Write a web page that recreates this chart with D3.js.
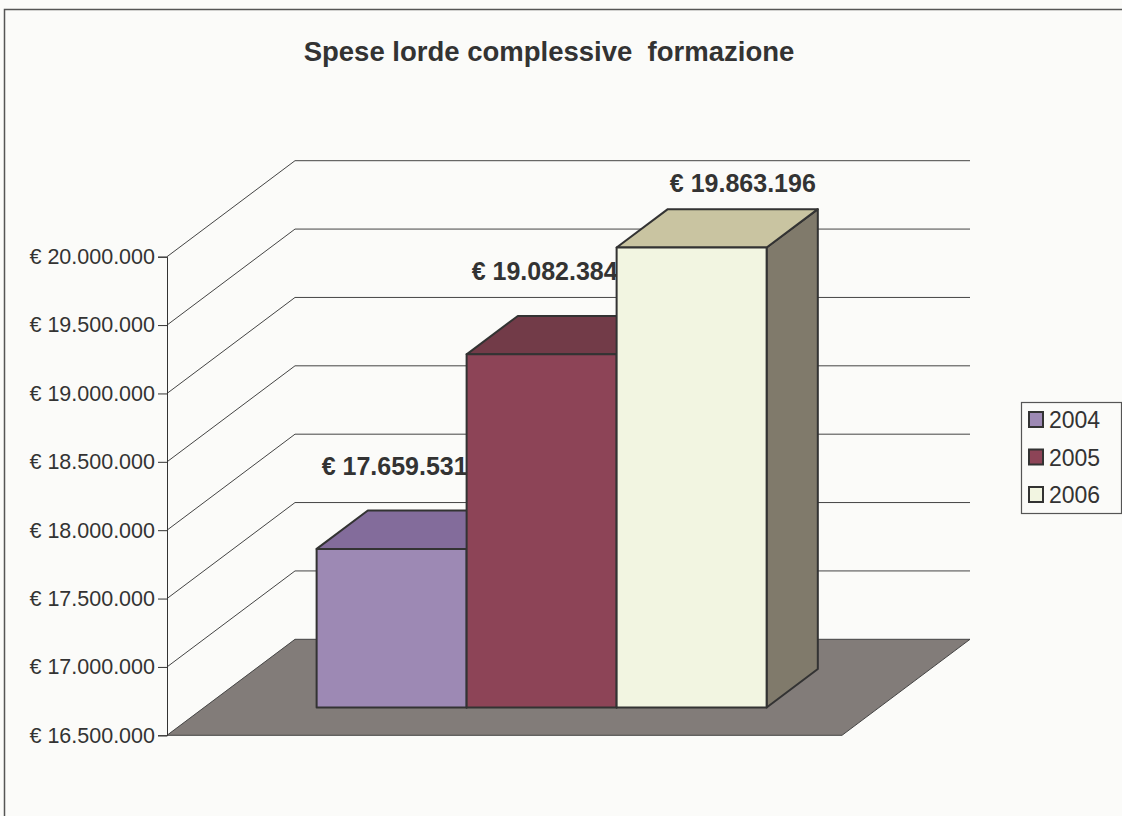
<!DOCTYPE html>
<html>
<head>
<meta charset="utf-8">
<script src="https://cdn.jsdelivr.net/npm/d3@7"></script>
<style>
  body { margin: 0; background: #fbfbf9; }
  svg { display: block; font-family: "Liberation Sans", Arial, sans-serif; }
</style>
</head>
<body>
<div id="chart"></div>
<script>
// data
const years = ["2004", "2005", "2006"];
const values = [17659531, 19082384, 19863196];
const yTicks = [16500000, 17000000, 17500000, 18000000, 18500000, 19000000, 19500000, 20000000];
const frontColors = ["#9d89b4", "#8d4457", "#f2f5e1"];
const topColors = ["#836c9b", "#723b48", "#c9c4a1"];
const sideColors = ["#6a5680", "#5e2f3b", "#807a6b"];

document.addEventListener('DOMContentLoaded', function () {
    drawChart();
});

function drawChart() {
    const width = 1122, height = 816;
    // front plane of the plot and depth of the 3d box
    const left = 167, right = 842, depthX = 128, depthY = 96;
    // where the bars sit in depth (0 = front wall, 1 = back wall)
    const barFront = 0.29, barBack = 0.69;

    const svg = d3.select("#chart")
        .append("svg")
        .attr("width", width)
        .attr("height", height);

    // outer border of the chart area
    svg.append("rect")
        .attr("x", 4.5).attr("y", 9.5)
        .attr("width", width).attr("height", height)
        .attr("fill", "#fbfbf9")
        .attr("stroke", "#555")
        .attr("stroke-width", 1.5);

    const y = d3.scaleLinear()
        .domain([16500000, 20000000])
        .range([735.3, 256.7]);

    // bars are clustered inside the single category
    const x = d3.scaleBand()
        .domain(years)
        .range([left + 112.5, right - 112.5]);

    // project a point (x on front plane, value, depth fraction)
    const proj = (px, v, f) => [px + f * depthX, y(v) - f * depthY];

    const eur = d3.formatLocale({ decimal: ",", thousands: ".", grouping: [3], currency: ["€ ", ""] })
        .format("$,.0f");

    // title
    svg.append("text")
        .attr("x", 549)
        .attr("y", 61)
        .attr("text-anchor", "middle")
        .style("font-size", "27.5px")
        .style("font-weight", "bold")
        .attr("fill", "#333")
        .attr("xml:space", "preserve")
        .text("Spese lorde complessive  formazione");

    const grid = svg.append("g");
    const base = yTicks[0];

    // floor
    grid.append("path")
        .attr("d", d3.line()([proj(left, base, 0), proj(left, base, 1), proj(right, base, 1), proj(right, base, 0)]) + "Z")
        .attr("fill", "#827c79")
        .attr("stroke", "#444")
        .attr("stroke-width", 1);

    // gridlines: diagonal on the side wall, horizontal on the back wall
    yTicks.slice(1).forEach(function (t) {
        const a = proj(left, t, 0), b = proj(left, t, 1), c = proj(right, t, 1);
        grid.append("path")
            .attr("d", d3.line()([a, b, c]))
            .attr("fill", "none")
            .attr("stroke", "#444")
            .attr("stroke-width", 1);
    });

    // value axis on the front
    const axis = svg.append("g")
        .attr("transform", `translate(${left},0)`)
        .call(d3.axisLeft(y).tickValues(yTicks).tickFormat(eur).tickSize(9).tickPadding(3));
    axis.select(".domain").attr("stroke", "#333");
    axis.selectAll(".tick line").attr("stroke", "#333");
    axis.selectAll(".tick text")
        .attr("fill", "#333")
        .style("font-size", "21.5px")
        .style("font-family", "'Liberation Sans', Arial, sans-serif");

    // data labels are painted before the bars, so the next bar hides their tail
    const labels = svg.append("g");
    years.forEach(function (yr, i) {
        const v = values[i];
        const frontTop = proj(x(yr), v, barFront);
        let lx = frontTop[0] + x.bandwidth() / 2 + 3;
        let ly = frontTop[1] - 74;
        // keep the label inside the plot: drop it onto the back of the top face
        if (ly < 200) {
            const backTop = proj(x(yr), v, barBack);
            lx = backTop[0] + x.bandwidth() / 2;
            ly = backTop[1] - 17;
        }
        labels.append("text")
            .attr("x", lx)
            .attr("y", ly)
            .attr("text-anchor", "middle")
            .style("font-size", "25px")
            .style("font-weight", "bold")
            .attr("fill", "#333")
            .text(eur(v));
    });

    // bars, left to right so each front face covers the previous side face
    const bars = svg.append("g")
        .attr("stroke", "#333")
        .attr("stroke-width", 2)
        .attr("stroke-linejoin", "round");
    years.forEach(function (yr, i) {
        const v = values[i];
        const x0 = x(yr), x1 = x(yr) + x.bandwidth();
        const side = [proj(x1, base, barFront), proj(x1, base, barBack), proj(x1, v, barBack), proj(x1, v, barFront)];
        const top = [proj(x0, v, barFront), proj(x0, v, barBack), proj(x1, v, barBack), proj(x1, v, barFront)];
        const front = [proj(x0, base, barFront), proj(x0, v, barFront), proj(x1, v, barFront), proj(x1, base, barFront)];
        bars.append("path").attr("d", d3.line()(side) + "Z").attr("fill", sideColors[i]);
        bars.append("path").attr("d", d3.line()(top) + "Z").attr("fill", topColors[i]);
        bars.append("path").attr("d", d3.line()(front) + "Z").attr("fill", frontColors[i]);
    });

    // legend
    const legend = svg.append("g").attr("transform", "translate(1021,402)");
    legend.append("rect")
        .attr("x", 0.5).attr("y", 0.5)
        .attr("width", 100).attr("height", 111)
        .attr("fill", "#fbfbf9")
        .attr("stroke", "#555")
        .attr("stroke-width", 1.2);
    const items = legend.selectAll("g.item")
        .data(years)
        .join("g")
        .attr("class", "item")
        .attr("transform", (d, i) => `translate(0,${18 + i * 37.5})`);
    items.append("rect")
        .attr("x", 8).attr("y", -8)
        .attr("width", 14).attr("height", 15)
        .attr("fill", (d, i) => frontColors[i])
        .attr("stroke", "#333")
        .attr("stroke-width", 2);
    items.append("text")
        .attr("x", 28)
        .attr("y", 8)
        .style("font-size", "23px")
        .attr("fill", "#333")
        .text(d => d);
}
</script>
</body>
</html>
